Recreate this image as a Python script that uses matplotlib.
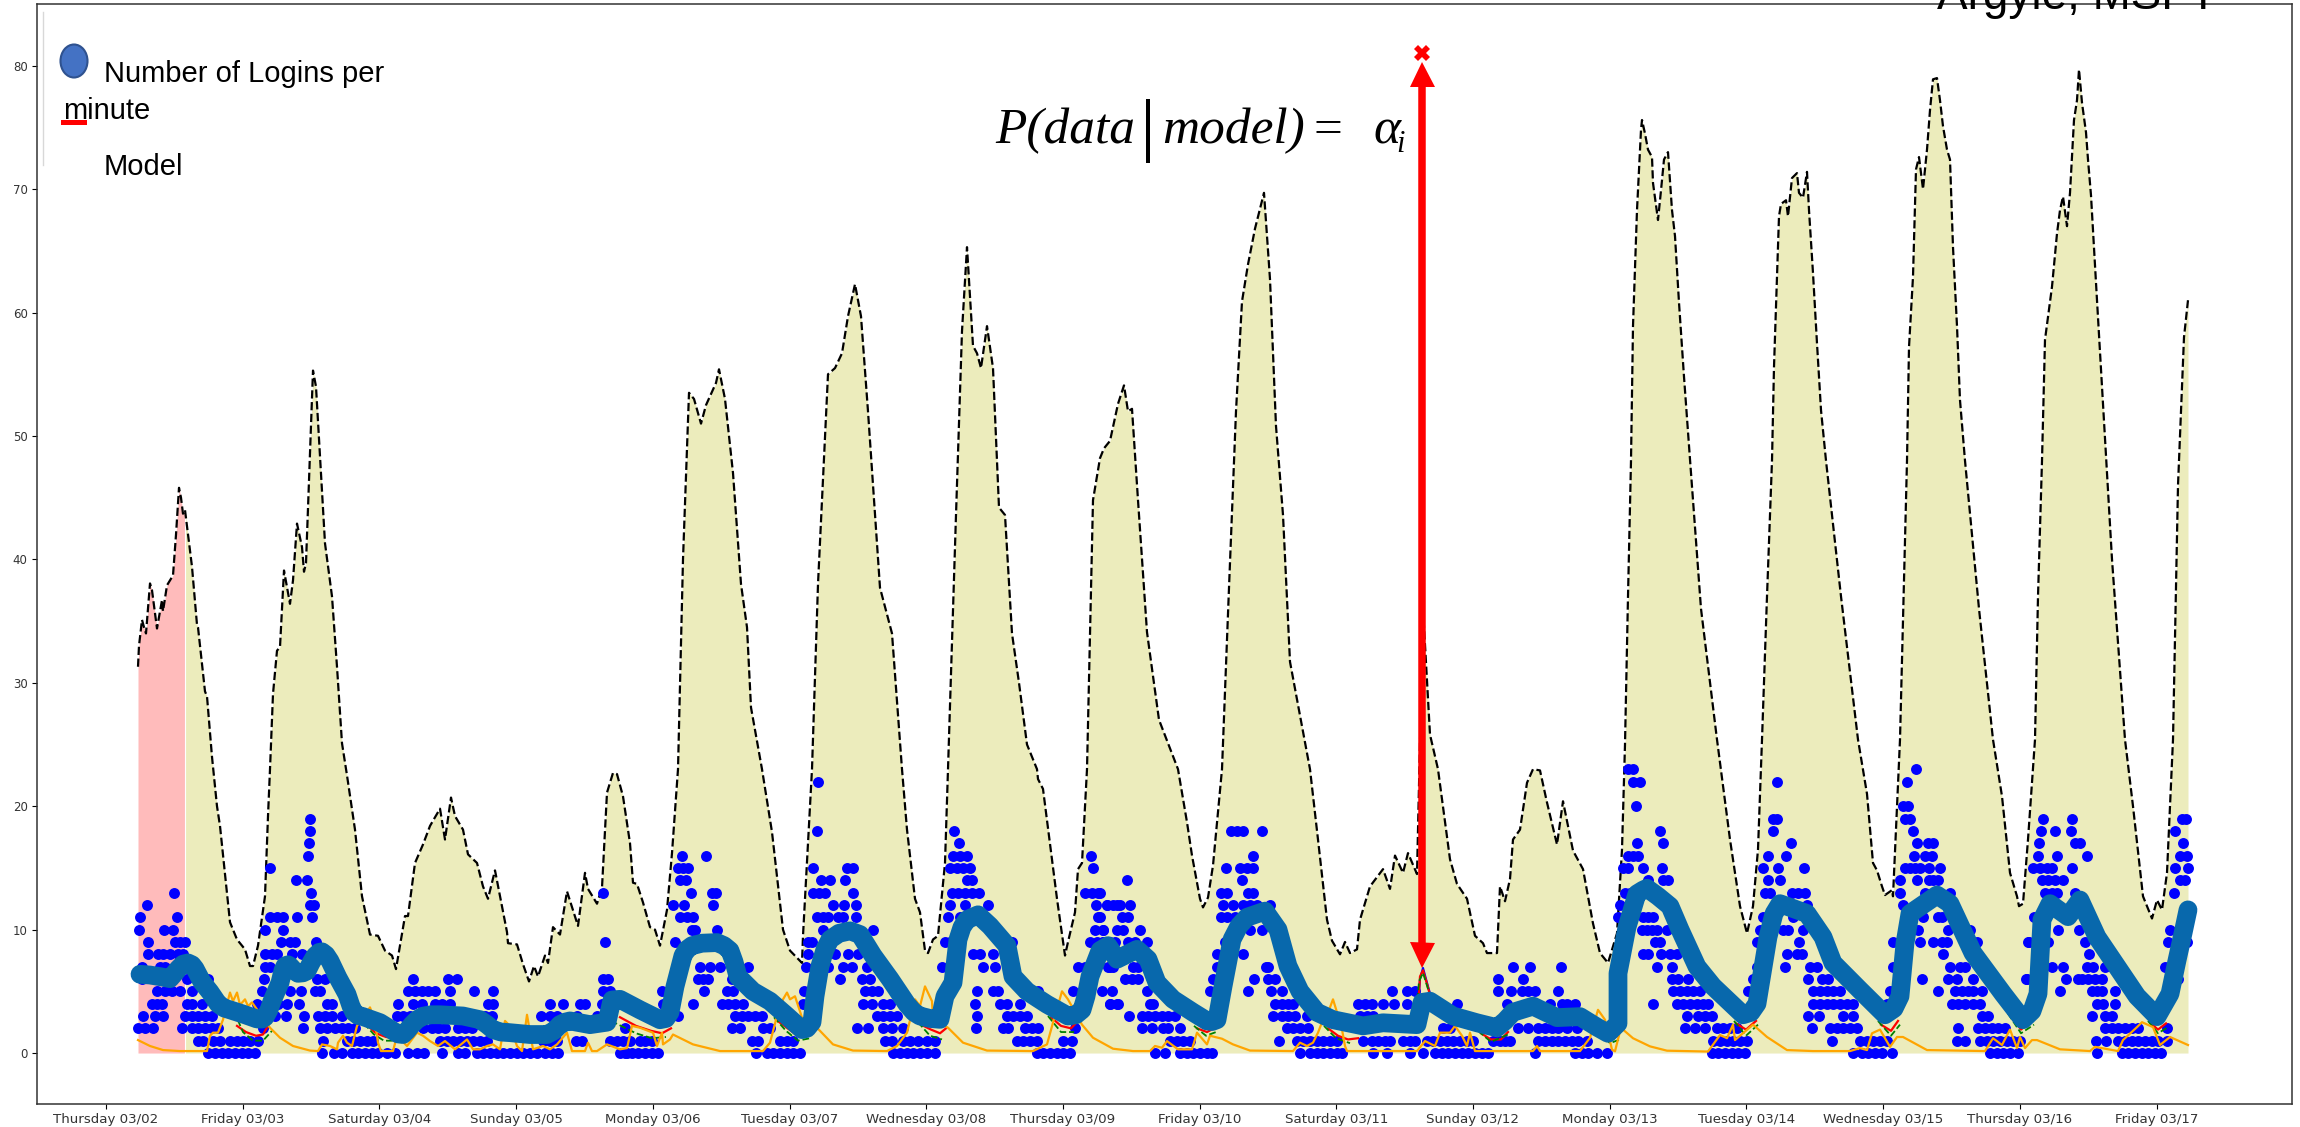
import numpy as np
import matplotlib
matplotlib.use("Agg")
import matplotlib.pyplot as plt
from matplotlib.patches import Ellipse, Rectangle
from matplotlib.transforms import Affine2D

WIDTH, HEIGHT = 2300, 1127
samples_per_day = 136.7   # x axis is the sample index of the series
day_labels = ["Thursday 03/02", "Friday 03/03", "Saturday 03/04", "Sunday 03/05", "Monday 03/06",
              "Tuesday 03/07", "Wednesday 03/08", "Thursday 03/09", "Friday 03/10", "Saturday 03/11",
              "Sunday 03/12", "Monday 03/13", "Tuesday 03/14", "Wednesday 03/15", "Thursday 03/16",
              "Friday 03/17"]
y_ticks = [0, 10, 20, 30, 40, 50, 60, 70, 80]

# upper envelope (black dashed)
env_s = [32,33,34,36,38,40,42,44,46,51,54,56,57,61,64,67,70,73,75,77,79,86,91,92,99,101,106,111,114,124,126,131,136,139,144,147,152,159,162,164,167,171,174,178,184,187,191,196,198,200,207,210,219,226,231,236,241,
         249,256,264,272,279,286,290,299,302,309,317,324,334,339,345,349,357,362,371,377,382,389,401,402,411,417,423,428,432,439,442,447,454,461,472,479,482,491,496,501,507,511,517,524,527,531,537,544,549,554,561,566,572,
         577,583,588,595,600,610,613,619,627,635,641,645,656,666,677,684,696,697,706,712,722,729,736,742,749,755,762,774,786,796,801,809,814,819,822,827,832,839,842,
         850,856,861,867,871,875,881,887,893,899,906,913,921,931,932,937,946,951,959,962,969,972,976,981,
         987,994,998,1004,1012,1018,1022,1026,1032,1041,1053,1072,1081,1086,1094,1097,1102,1107,1112,1116,
         1123,1130,1136,1142,1149,1158,1164,1170,1177,1184,1204,1212,1221,1226,1234,1239,1244,1251,1254,1264,1277,1284,1289,1297,1302,1311,1317,1324,1332,1344,1351,1361,1369,1377,1381,1391,1394,1399,1404,1407,1414,1421,1427,1434,1441,1451,1457,1467,1477,1487,1494,1502,1511,1516,
         1519,1522,1525,1527,1531,1535,1536,1539,1542,1546,1547,1552,1555,1558,1562,1566,1569,1573,1578,1584,1595,1611,1624,1634,1641,1647,1652,
         1656,1661,1666,1668,1671,1673,1675,1680,1682,1686,1691,1693,1697,1701,1703,1707,1711,1715,1720,1735,1752,1761,1767,1771,1776,1779,1786,1787,1791,1794,
         1797,1801,1803,1807,1810,1813,1817,1821,1824,1827,1831,1834,1837,1841,1844,1847,1851,1854,1859,1873,1887,1896,1904,1911,1913,1917,1922,1929,
         1932,1936,1939,1946,1951,1954,1957,1961,1964,1968,1971,1973,1976,1980,1982,1985,1991,2006,2019,2027,2037,2046,2051,2056,2061,2067,2072,2078,2082]
env_v = [31.3,33,33.7,35.1,34.5,34,36,38.05,37.5,34.4,35.8,36.7,35.8,37.9,38.3,38.7,42,45.8,45,43.7,44,39.4,34.7,34.5,29.3,28.9,24,20,18.4,10.6,10.2,9.2,8.7,8.4,7.05,7.05,8.7,12.7,19.2,23,29.1,32.6,32.9,39.1,36.4,38.3,42.9,41,39,39.7,55.3,54,41.3,37,31.3,25.1,22.5,
         18.1,12.7,9.6,9.5,8.3,7.9,6.8,11.1,11.1,15.4,16.9,18.4,19.8,17.3,20.7,19.2,18.1,16.1,15.4,13.5,12.5,14.8,9.8,8.9,8.8,7.2,5.8,7.05,6.2,7.9,7.3,10.2,9.6,13.1,10.3,14.6,13.3,12.1,13.4,21.1,22.7,22.6,20.8,17,13.8,13.7,12.2,10.2,10,8.7,11.6,16.2,23,
         40,53.5,53,51,52.5,54.3,55.4,53,47,38,34.5,28,23,17.9,10,8.3,7.3,9.5,23,38,55,55.5,56.7,59.7,62.3,59.7,52,37.7,34,23,18.1,12.5,11.4,8.3,8.1,9.2,9.5,15.4,23,
         43.6,58.5,65.3,57.3,56.7,55.5,58.9,55.5,44.2,43.6,34,30,25,23,22.2,21.4,15.7,12.5,7.9,9,11.4,14.9,15.4,23,
         44.8,48.2,49,49.6,52.6,54.1,52,52.2,44.8,34.1,27,23,18.7,16,12.5,11.8,12.6,15.2,19.5,23,
         37.7,52,60.9,63.9,66.8,69.7,62.7,50.8,43.6,31.7,23,17.3,10.8,9.1,8,9,8.1,8.4,10.8,13.5,14.9,13.3,16,14.6,16.2,14.5,36,25.8,23,15.7,13.7,12.5,9.5,8.9,8.1,8.1,13.5,12.3,14.1,17.3,18.1,21.9,23,22.9,20.3,16.9,20.4,16.4,14.9,10.5,8.1,7.3,9.7,16.5,
         25,37,48,58.9,68.3,74.8,75.6,74.5,73.2,72.6,70.5,67.5,69.9,72.4,73,68.3,66.2,60.8,54.8,48.1,36,25.4,17.3,11.9,9.7,11.9,16.5,
         25.4,37,48,55.6,62.9,67.8,68.8,69.1,67.8,70.9,71.3,69.7,69.3,71.4,68.3,63.2,57.5,52.1,48,37,25.4,21,15.4,14.8,13.5,12.8,13.2,12.7,20,25.4,
         35,48,57.2,62.9,71.6,72.6,70,73.2,76.4,78.9,79,77.2,75.1,73.2,72.4,65.3,58.9,52.9,48,36,25.4,20.8,14.6,12.7,11.9,12.1,17.3,25.4,
         37,48,57.8,62.1,66.4,68.3,69.4,67,69.7,75.6,77.2,79.7,77,74.6,72.4,69.5,61,40,25.4,20,12.7,10.9,12.4,11.6,14.6,25.4,46,58,61]

# fitted model (thick line)
model_s = [34,44,54,64,68,72,77,82,86,89,96,104,112,118,124,137,151,156,159,163,166,174,177,179,182,184,188,192,197,201,205,209,213,216,220,224,232,241,245,248,252,257,274,287,292,297,301,306,311,317,325,334,357,374,381,387,395,404,424,441,448,454,459,464,484,501,506,514,534,554,560,564,569,577,581,586,596,611,618,624,628,632,647,664,681,696,701,706,709,714,719,724,733,744,754,767,784,801,808,814,824,834,839,847,852,856,861,872,884,901,907,921,941,962,970,976,980,984,994,1002,1011,1031,1042,1051,1067,1087,1101,1106,1111,1117,1126,1133,1141,1159,1172,1182,1194,1211,1227,1257,1277,1311,1316,1324,1347,1371,1391,1399,1407,1427,1451,1474,1491,1502,1512,1512,1521,1531,1537,1541,1552,1564,1574,1591,1607,1637,1645,1651,1662,1668,1674,1701,1717,1727,1754,1779,1788,1794,1799,1804,1831,1844,1867,1897,1917,1926,1932,1936,1944,1962,1974,1991,2011,2031,2051,2064,2071,2077,2082]
model_v = [6.38,6.32,6.19,6.03,6.4,6.8,7.2,7.3,7.15,6.84,5.76,4.95,4.0,3.65,3.5,3.16,2.76,2.75,2.9,3.5,4.2,5.7,6.7,7.05,7.15,7.05,6.7,6.46,6.5,6.65,7.3,7.86,8.15,8.2,7.95,7.46,6.1,4.76,3.8,3.3,3.05,2.95,2.46,1.8,1.55,1.5,1.8,2.3,2.7,2.99,3.1,3.1,3.0,2.7,2.3,1.9,1.7,1.65,1.5,1.5,1.8,2.3,2.5,2.6,2.3,2.5,4.3,4.35,3.5,2.7,2.8,3.3,5.4,7.9,8.4,8.7,8.9,8.95,8.7,8.3,7.4,6.2,5.0,4.2,3.0,1.9,2.0,2.5,4.6,7.05,8.4,9.2,9.7,9.9,9.6,7.9,6.0,3.95,3.3,3.0,2.8,2.73,4.6,5.7,9.2,10.2,10.8,11.2,10.3,8.7,6.2,5.0,3.95,3.0,3.1,3.5,4.6,6.2,8.3,8.7,7.6,8.4,7.6,5.7,4.35,3.3,2.6,2.55,2.7,5.4,9.2,10.3,11.0,11.5,10.0,7.05,5.0,3.3,2.7,2.2,2.45,2.3,4.1,4.2,3.0,2.45,2.05,2.6,3.3,3.8,2.87,2.95,2.1,1.6,2.4,6.46,10.2,12.9,13.2,13.35,12.7,11.9,10,7.0,5.4,3.1,3.3,4.0,9.4,11.3,12.1,11.3,9.4,7.3,5.1,3.1,3.6,4.6,8.9,11.3,12.8,12.1,8.1,4.8,2.7,3.4,4.8,10.8,12.1,11.05,12.4,9.4,7.0,4.6,2.95,4.8,7.5,9.7,11.6]

# secondary decay line (orange)
orange_s = [32,44,57,74,101,104,107,112,117,124,127,131,134,139,142,146,164,174,187,204,212,216,224,231,232,237,241,246,251,264,269,272,275,287,291,301,311,317,324,332,339,349,361,367,374,381,387,394,399,404,411,416,421,427,437,444,451,461,466,479,482,486,491,501,514,521,526,534,547,551,556,557,564,567,587,614,644,657,664,671,677,681,684,689,696,711,727,747,781,791,801,809,814,819,826,827,842,857,881,927,941,947,956,962,976,987,1007,1027,1044,1049,1056,1061,1072,1086,1091,1101,1104,1116,1127,1144,1187,1194,1201,1207,1212,1217,1224,1227,1231,1236,1239,1241,1311,1319,1329,1334,1344,1349,1356,1361,1364,1369,1384,1427,1431,1434,1474,1484,1492,1499,1506,1509,1514,1517,1527,1544,1561,1602,1614,1621,1627,1629,1647,1661,1681,1707,1744,1754,1761,1766,1774,1784,1791,1797,1821,1879,1887,1896,1904,1911,1914,1919,1926,1931,1954,1984,1989,2012,2017,2031,2036,2047,2054,2064,2082]
orange_v = [1.05,.57,.24,.16,.16,1.4,1.65,1.65,2.7,4.9,4.2,4.9,3.9,4.35,3.8,4.1,2.05,1.24,.57,.2,.16,.7,.57,.3,.84,1.4,.84,.57,2.2,3.7,2.5,.84,.16,.16,1.4,.57,1.65,1.4,.97,.57,.97,.3,1.1,.3,.3,.57,.7,.3,2.6,2.2,.57,.16,3.1,.3,.57,.3,.7,1.65,.16,.16,.84,.16,.16,.7,.3,.4,2.2,2.05,1.65,.57,1.65,.7,1.1,1.5,.7,.16,.16,.16,.84,3,4.35,4.9,4.35,4.6,2.87,2.05,.7,.2,.16,.57,1.65,4.35,3.8,5.4,4.2,2.7,2.05,.84,.2,.16,.7,2.46,5,4.35,2.3,1.24,.35,.16,.16,.57,.43,.97,.3,.3,1.65,.7,1.4,1.16,.7,.2,.16,.84,.57,.84,1.65,2.7,3.7,4.35,3.3,1.9,.57,.16,.16,.97,.57,1.65,1.65,2.2,1.4,.57,1.65,.16,.16,.16,.57,.16,.16,1.24,3.5,2.7,.27,.14,1.76,1.9,1.2,.54,.19,.12,1.46,1.2,2.3,1.05,2.3,1.3,.24,.16,.16,.4,.24,1.6,1.9,.5,1.3,1.3,.24,.16,1.2,.65,1.9,.4,1.3,.4,1.05,1.05,.3,.16,.5,.16,1.05,2.1,2.5,2.1,.65,1.3,.65]

nan = float("nan")
# thin lines that peek out under the model in the troughs
red_s = [131,140,150,157,162,nan,262,270,280,290,nan,441,447,452,nan,514,530,545,556,565,nan,670,680,690,697,703,nan,815,825,834,840,nan,945,955,965,972,nan,1091,1101,1108,nan,1222,1232,1242,1252,nan,1311,1314,1317,1321,1326,nan,1375,1385,1395,1402,nan,1495,1505,1512,nan,1630,1640,1650,nan,1775,1785,1792,nan,1905,1915,1925,nan,2045,2052,2060]
red_v = [2.2,1.7,1.4,1.5,2.2,nan,2.2,1.6,1.3,1.2,nan,1.3,1.2,1.6,nan,2.9,2.2,1.8,1.6,2.0,nan,2.7,2.1,1.5,1.3,1.6,nan,2.3,1.9,1.6,2.0,nan,2.9,2.2,2.0,2.6,nan,2.0,1.7,2.0,nan,2.0,1.4,1.1,1.2,nan,2.3,6.2,6.7,5.6,4.1,nan,1.6,1.1,1.1,1.7,nan,1.5,1.1,1.4,nan,2.4,1.9,2.6,nan,2.3,1.8,2.6,nan,3.0,1.9,2.6,nan,2.4,1.9,2.4]
green_s = [128,137,147,157,166,nan,258,268,278,290,nan,505,530,546,560,nan,668,680,692,704,nan,812,824,836,nan,942,955,968,nan,1088,1100,1110,nan,1218,1230,1244,nan,1309,1313,1317,1322,1328,nan,1372,1385,1402,nan,1492,1504,1514,nan,1628,1640,1652,nan,1772,1785,1794,nan,1902,1915,1928,nan,2042,2052,2062]
green_v = [3.4,1.7,1.0,1.0,1.8,nan,2.4,1.5,1.0,1.0,nan,2.6,1.6,1.2,1.3,nan,2.9,1.8,1.0,1.2,nan,2.5,1.4,1.1,nan,3.0,1.7,1.7,nan,2.2,1.4,1.7,nan,2.2,1.2,.8,nan,2.0,5.8,6.5,5.2,3.8,nan,1.8,.9,1.5,nan,1.7,.8,1.1,nan,2.6,1.4,2.3,nan,2.6,1.4,2.3,nan,3.2,1.6,2.3,nan,2.6,1.6,2.1]
spike_s = [1311,1314,1317,1322,1327]
spike_v = [2.4,6.0,6.9,5.4,4.0]

# sample indices of the observed logins, one list per count
logins_0 = [102,109,116,122,129,136,142,149,216,228,236,246,252,259,266,272,281,289,302,311,318,336,352,359,371,377,384,391,397,404,411,417,424,431,439,446,452,514,521,519,526,532,539,546,552,650,661,667,674,681,687,694,787,794,801,807,814,821,829,931,937,944,951,957,964,1049,1059,1074,1081,1087,1094,1101,1106,1194,1204,1211,1217,1224,1231,1236,1267,1281,1304,1317,1329,1336,1342,1349,1356,1362,1369,1376,1382,1429,1469,1476,1482,1491,1501,1606,1612,1619,1626,1632,1639,1747,1756,1762,1769,1776,1786,1884,1891,1897,1904,1912,1991,2016,2022,2029,2036,2042,2049,2055]
logins_1 = [92,97,107,114,124,131,137,144,152,217,241,247,254,261,267,334,341,347,354,361,367,374,381,437,444,451,470,476,504,511,517,524,534,539,546,646,652,674,681,687,779,786,797,804,812,821,829,911,917,924,931,957,966,1064,1071,1077,1084,1173,1191,1197,1204,1211,1217,1224,1231,1257,1266,1272,1279,1284,1297,1304,1309,1321,1327,1334,1341,1347,1354,1361,1367,1387,1394,1399,1404,1432,1439,1446,1452,1459,1466,1472,1481,1607,1614,1621,1627,1634,1641,1726,1754,1761,1767,1774,1781,1851,1859,1874,1881,1887,1894,1901,1907,1914,1990,2000,2012,2019,2026,2032,2039,2046,2052,2061]
logins_2 = [32,39,47,76,86,92,99,106,112,157,197,214,221,229,236,242,249,317,326,332,339,352,359,366,519,626,634,657,664,751,762,777,786,797,870,897,902,919,926,932,969,1036,1046,1057,1062,1074,1181,1187,1194,1202,1337,1344,1412,1422,1432,1439,1446,1452,1461,1471,1579,1589,1599,1611,1617,1624,1631,1706,1724,1731,1737,1744,1751,1852,1872,1879,1886,1892,1899,1999,2006,2012,2019,2026,2032,2061]
logins_3 = [37,49,57,79,86,92,99,106,169,180,198,212,219,226,236,291,297,304,379,386,435,444,451,471,491,572,629,636,642,649,656,771,777,784,791,871,901,907,914,921,1023,1036,1042,1049,1056,1062,1069,1167,1176,1182,1189,1201,1254,1261,1267,1581,1592,1599,1606,1702,1713,1737,1747,1876,1882,1986,1999,2006]
logins_4 = [46,51,56,81,86,96,151,172,181,193,221,226,292,307,316,329,336,344,382,387,444,457,474,479,496,557,587,616,622,629,637,697,757,766,777,784,869,894,901,914,1004,1011,1004,1012,1044,1047,1169,1176,1182,1187,1252,1259,1266,1277,1288,1301,1351,1401,1444,1456,1461,1469,1547,1571,1577,1584,1591,1597,1602,1707,1714,1721,1727,1734,1741,1747,1781,1846,1852,1859,1867,1874,1991,1997,2009]
logins_5 = [51,59,66,74,86,156,184,195,209,214,302,309,316,322,329,344,368,387,497,504,556,598,621,627,698,759,766,772,871,887,892,932,967,996,1006,1041,1104,1142,1165,1176,1197,1286,1301,1309,1392,1405,1416,1422,1429,1452,1567,1574,1581,1587,1594,1642,1707,1714,1721,1727,1734,1784,1832,1849,1856,1862,1867,1876,1954,1986,1991,1996,2009]
logins_6 = [36,54,81,102,158,211,219,307,342,351,497,502,592,597,602,626,734,756,764,1019,1026,1032,1052,1107,1148,1162,1169,1392,1417,1566,1572,1582,1647,1702,1716,1722,1816,1842,1851,1867,1921,1960,1972,1920,1976,1982,1989,1996,2072]
logins_7 = [36,54,59,74,159,164,594,604,614,642,700,722,737,746,761,836,877,889,972,979,1002,1007,1004,1027,1032,1111,1160,1162,1407,1424,1455,1551,1566,1651,1679,1704,1711,1787,1844,1854,1859,1946,1957,1981,1987,1999,2059]
logins_8 = [42,52,57,64,72,77,159,166,171,186,196,702,729,742,752,867,874,887,1111,1137,1537,1542,1555,1564,1571,1681,1691,1696,1837,1983]
logins_9 = [42,69,74,79,175,184,189,210,499,569,702,706,839,844,906,984,991,997,997,1004,1009,1022,1029,1041,1119,1549,1554,1651,1693,1787,1814,1827,1836,1841,1871,1922,1942,1923,1979,2062,2081]
logins_10 = [33,58,67,159,177,586,589,611,717,767,989,997,997,1011,1017,1034,1144,1156,1536,1541,1546,1551,1561,1654,1677,1682,1697,1812,1842,1864,1952,1973,2064]
logins_11 = [34,71,164,171,177,191,206,574,581,587,711,717,722,732,737,750,842,854,992,994,1016,1022,1115,1121,1129,1512,1537,1542,1547,1657,1687,1817,1832,1836,1928]
logins_12 = [41,204,208,567,578,607,727,738,750,844,859,882,990,1001,1011,1001,1007,1014,1024,1117,1127,1137,1144,1151,1164,1514,1701,1797]
logins_13 = [68,205,497,585,606,610,707,713,719,747,846,852,859,866,873,979,986,992,994,1115,1121,1142,1147,1519,1524,1659,1664,1686,1692,1699,1794,1819,1844,1939,1946,1951,1969,2068]
logins_14 = [190,201,574,580,715,724,739,861,866,1021,1136,1542,1557,1562,1662,1674,1794,1811,1823,1827,1832,1936,1942,1949,1957,2074,2079]
logins_15 = [164,572,577,582,707,741,747,844,851,857,864,987,1120,1134,1141,1147,1517,1522,1537,1556,1657,1672,1698,1799,1804,1809,1814,1823,1834,1927,1934,1941,1946,1966,2069,2082]
logins_16 = [202,576,600,847,854,861,985,1147,1522,1527,1532,1662,1680,1808,1819,1826,1932,1951,1981,2074,2081]
logins_17 = [203,853,1531,1557,1685,1811,1822,1827,1933,1969,1974,2077]
logins_18 = [204,711,848,1125,1131,1137,1156,1554,1667,1807,1935,1949,1965,2069]
logins_19 = [204,1667,1671,1799,1804,1937,1966,2076,2080]
logins_20 = [1530,1797,1802]
logins_22 = [712,1527,1534,1671,1801]
logins_23 = [1522,1527,1810]
login_counts = [0,1,2,3,4,5,6,7,8,9,10,11,12,13,14,15,16,17,18,19,20,22,23]
login_lists = [logins_0,logins_1,logins_2,logins_3,logins_4,logins_5,logins_6,logins_7,logins_8,logins_9,
               logins_10,logins_11,logins_12,logins_13,logins_14,logins_15,logins_16,logins_17,logins_18,
               logins_19,logins_20,logins_22,logins_23]

anomaly_end = 79          # pink region ends here (sample)
arrow_sample = 1315.5
arrow_low, arrow_high = 7.94, 79.3
anomaly_mark = 81.0

fig = plt.figure(figsize=(WIDTH / 100, HEIGHT / 100), dpi=100, facecolor="white")
ax = fig.add_axes([36.7 / WIDTH, 1 - 1104 / HEIGHT, (2292 - 36.7) / WIDTH, (1104 - 4.4) / HEIGHT])

env_s_a, env_v_a = np.array(env_s, float), np.array(env_v, float)
split = list(env_s).index(anomaly_end)
ax.fill_between(env_s_a[:split + 1], 0, env_v_a[:split + 1], color="#FFBBBB", lw=0, zorder=1)
ax.fill_between(env_s_a[split:], 0, env_v_a[split:], color="#ECECBC", lw=0, zorder=1)
ax.plot([anomaly_end, anomaly_end], [0, env_v[split]], color="white", lw=0.8, zorder=1.5)
ax.plot(env_s, env_v, color="black", ls="--", lw=1.6, zorder=2)

for count, times in zip(login_counts, login_lists):
    ax.scatter(times, [count] * len(times), s=62, color="#0000FF", linewidths=0, zorder=3)

ax.plot(spike_s, spike_v, color="#0000FF", lw=1.5, zorder=3.4)
ax.plot(red_s, red_v, color="red", lw=1.6, zorder=3.5)
ax.plot(green_s, green_v, color="green", lw=1.3, ls="--", zorder=3.6)
ax.plot(orange_s, orange_v, color="orange", lw=1.6, zorder=4)
ax.plot(model_s, model_v, color="#0868AC", lw=13.5, solid_capstyle="round",
        solid_joinstyle="round", zorder=5)

ax.plot([arrow_sample, arrow_sample], [arrow_low, arrow_high], color="red", lw=5.4,
        solid_capstyle="butt", zorder=6)
ax.plot([arrow_sample], [arrow_high], marker="^", ms=18, mew=0, color="red", zorder=6)
ax.plot([arrow_sample], [arrow_low], marker="v", ms=18, mew=0, color="red", zorder=6)
ax.plot([arrow_sample], [anomaly_mark], marker="X", ms=11, mew=0, color="red", zorder=6)

ax.set_xlim(-69.3, 2186)
ax.set_ylim(-4.13, 84.97)
ax.set_xticks([i * samples_per_day for i in range(len(day_labels))])
ax.set_xticklabels(day_labels, fontsize=9.6, color="#333333")
ax.set_yticks(y_ticks)
ax.tick_params(axis="y", labelsize=8.5, labelcolor="#333333", length=3.5, width=0.8, pad=3)
ax.tick_params(axis="x", length=3.5, width=0.8, pad=3)
for sp in ax.spines.values():
    sp.set_linewidth(1.1)
    sp.set_color("#333333")

# slide overlays, placed in reference pixels
px = Affine2D().scale(1, -1).translate(0, HEIGHT)
sans = "Liberation Sans"
serif = "Liberation Serif"
fig.add_artist(plt.Line2D([43, 43], [12, 165], transform=px, color="#D8D8D8", lw=1))
fig.add_artist(Ellipse((74, 61), 27, 33, transform=px, facecolor="#4472C4", edgecolor="#2F528F", lw=1.5))
fig.add_artist(Rectangle((61, 120), 26, 5, transform=px, facecolor="#FF0000", edgecolor="none"))
fig.text(104, 82, "Number of Logins per", transform=px, fontsize=21, family=sans, va="baseline")
fig.text(63, 119, "minute", transform=px, fontsize=21, family=sans, va="baseline")
fig.text(104, 175, "Model", transform=px, fontsize=21, family=sans, va="baseline")
fig.text(1937, 9, "Argyle, MSFT", transform=px, fontsize=33, family=sans, va="baseline")

fig.text(995, 143, "P(data", transform=px, fontsize=37, family=serif, style="italic", va="baseline")
fig.add_artist(Rectangle((1146, 99), 4, 64, transform=px, facecolor="black", edgecolor="none"))
fig.text(1162, 143, "model)", transform=px, fontsize=37, family=serif, style="italic", va="baseline")
fig.text(1313, 143, "=", transform=px, fontsize=37, family=serif, va="baseline")
fig.text(1373, 143, "α", transform=px, fontsize=37, family=serif, style="italic", va="baseline")
fig.text(1396, 152, "i", transform=px, fontsize=22, family=serif, style="italic", va="baseline")

fig.savefig("out.png", dpi=100)
